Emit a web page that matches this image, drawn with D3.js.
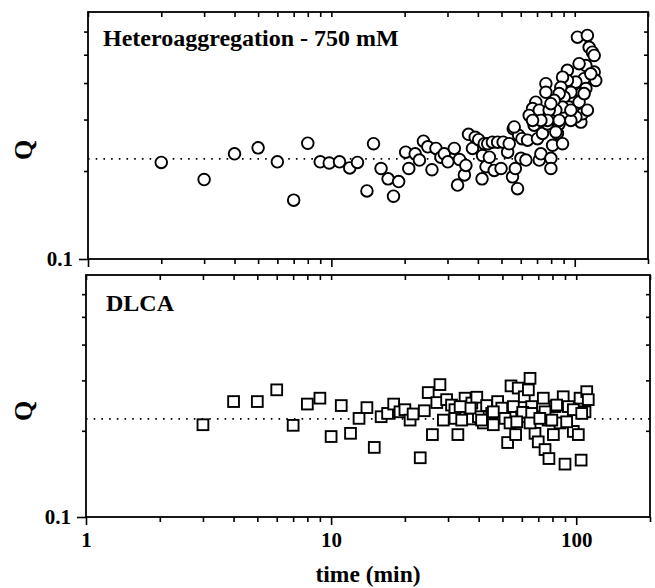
<!DOCTYPE html>
<html><head><meta charset="utf-8">
<script src="https://cdn.jsdelivr.net/npm/d3@7"></script>
<style>
body{margin:0;background:#fff}
svg{display:block;background:#fff}
text{font-family:"Liberation Serif","Times New Roman",serif;font-weight:bold;fill:#000}
</style>
</head><body>
<svg id="c" width="655" height="588"></svg>
<script>
// ---------------- data ----------------
const heteroTime = [
  2,3,4,5,6,7,8,9,9.8,10.8,11.9,12.8,14,14.9,
  16,17.1,18.9,18,20.2,20.8,22.1,23,23.9,24.9,25.9,26.9,28.2,29.1,30.1,32,33,33.6,35.2,35.7,36.6,38,39,40.3,41.6,42.5,43.2,
  41.8,43.9,44.6,45.9,46.7,48.2,49.8,50.8,53,53.8,55.5,55.9,57,58.2,58.8,60.1,60.7,63,64,68.1,70.3,71.5,72.6,73.7,77.3,79.8,79.8,81.1,84.9,86.3,89.1,106,
  102.6,112.7,114.6,118.2,120.2,120.2,118.2,111.1,104.2,109.3,111.1,106,101.1,93.3,93.3,99.5,96.4,89.1,87.7,90.5,94.8,104.2,107.6,112.7,101.1,96.4,89.1,86.3,82.3,83.6,76.1,76.1,69.2,67.1,65,71.5,78.5,86.3,77.3,72.6,67.1,56.4,122,116.4,
  79.8,83.6,96.4,109.3
];
const heteroQ = [
  .214,.187,.229,.240,.215,.159,.249,.215,.213,.215,.205,.214,.171,.248,
  .204,.188,.184,.164,.232,.204,.229,.218,.253,.242,.202,.239,.223,.229,.215,.239,.179,.219,.194,.209,.267,.239,.261,.256,.188,.248,.207,
  .226,.248,.223,.251,.201,.251,.204,.251,.232,.248,.191,.279,.204,.174,.265,.221,.258,.218,.255,.287,.258,.218,.229,.269,.290,.221,.204,.245,.269,.290,.248,.294,
  .574,.582,.530,.510,.497,.436,.414,.459,.466,.414,.383,.368,.403,.442,.408,.349,.372,.419,.387,.358,.331,.344,.314,.323,.306,.298,.331,.368,.349,.323,.398,.372,.344,.327,.310,.323,.323,.298,.298,.298,.298,.283,.408,.430,
  .340,.272,.323,.368
];
const dlcaTime = [
  3,4,5,6,7,8,9,10,
  11,12,13,14,15,16,17,18,
  19.1,20,21,21.6,23.1,24,24.9,25.9,
  27,27.8,28.7,29.6,31,32.9,32,34.1,
  35.2,36.9,37.5,39.3,39.9,41.8,43.1,45.2,
  45.9,47.8,49.7,51.2,52.5,53.7,54.2,55.4,
  56.6,58,59.9,61.4,64.8,63.8,65.8,67.9,
  70,70,73.4,74.6,77.4,76.8,80.7,81.9,
  85.9,88.5,90,92.9,97.3,102,104.7,103.7,
  110.4,112,108.6,
  60.5,65.8,74.6,83.2,97.3,32,34.1,41.1,57.2,64.8,71,79.5,91.4,105.3,45.9,36.9,33.6
];
const dlcaQ = [
  .210,.253,.253,.278,.209,.248,.260,.191,
  .245,.196,.221,.241,.175,.224,.230,.248,
  .233,.237,.218,.229,.161,.235,.272,.194,
  .251,.290,.218,.257,.246,.194,.237,.227,
  .260,.220,.250,.262,.224,.213,.245,.230,
  .210,.253,.240,.221,.182,.213,.287,.243,
  .194,.282,.224,.263,.305,.278,.243,.196,
  .224,.183,.260,.172,.160,.218,.194,.243,
  .213,.263,.153,.243,.199,.194,.158,.260,
  .274,.257,.233,
  .232,.230,.233,.246,.237,.221,.218,.218,.215,.213,.221,.218,.215,.230,.233,.240,.243
];
const xDomain = [1, 200];
const yDomain = [0.1, 0.7];
const xMajorTicks = [1, 10, 100];
const xMinorTicks = [2,3,4,5,6,7,8,9,20,30,40,50,60,70,80,90,200];
const yMajorTicks = [0.1];
const yMinorTicks = [0.2,0.3,0.4,0.5,0.6];
const refLevel = 0.22;
const panelTitles = ["Heteroaggregation - 750 mM", "DLCA"];
const yLabel = "Q";
const xLabel = "time (min)";

// ---------------- drawing ----------------
const svg = d3.select("#c");
const panels = [
  {title: panelTitles[0], time: heteroTime, q: heteroQ, marker: "circle",
   left: 88, right: 648, top: 12, bottom: 259, tx: 103, ty: 46, qy: 150, showX: false},
  {title: panelTitles[1], time: dlcaTime, q: dlcaQ, marker: "square",
   left: 86, right: 650, top: 275, bottom: 517, tx: 106, ty: 311, qy: 411, showX: true}
];

function styleAxis(g) {
  g.attr("font-size", null).attr("font-family", null);
  g.select(".domain").remove();
  g.selectAll(".tick line").attr("stroke", "#000").attr("stroke-width", 1.6);
  g.selectAll(".tick text").style("font-size", "21px");
}

panels.forEach(p => {
  const x = d3.scaleLog().domain(xDomain).range([p.left, p.right]);
  const y = d3.scaleLog().domain(yDomain).range([p.bottom, p.top]);
  const g = svg.append("g");

  // reference dotted line
  g.append("line")
    .attr("x1", x(xDomain[0])).attr("x2", x(xDomain[1]))
    .attr("y1", y(refLevel)).attr("y2", y(refLevel))
    .attr("stroke", "#000").attr("stroke-width", 1.7)
    .attr("stroke-dasharray", "1.6 6.1");

  // markers
  const data = p.time.map((t, i) => ({t, q: p.q[i]}));
  if (p.marker === "circle") {
    g.selectAll("circle.m").data(data).join("circle")
      .attr("class", "m")
      .attr("cx", d => x(d.t)).attr("cy", d => y(d.q)).attr("r", 5.8)
      .attr("fill", "#fff").attr("stroke", "#000").attr("stroke-width", 1.9);
  } else {
    const s = 10.8;
    g.selectAll("rect.m").data(data).join("rect")
      .attr("class", "m")
      .attr("x", d => x(d.t) - s / 2).attr("y", d => y(d.q) - s / 2)
      .attr("width", s).attr("height", s)
      .attr("fill", "#fff").attr("stroke", "#000").attr("stroke-width", 1.9);
  }

  // bottom axis (outward)
  g.append("g").attr("transform", `translate(0,${p.bottom})`)
    .call(d3.axisBottom(x).tickValues(xMajorTicks).tickSizeInner(8).tickSizeOuter(0).tickPadding(7)
      .tickFormat(p.showX ? d3.format("d") : () => ""))
    .call(styleAxis);
  g.append("g").attr("transform", `translate(0,${p.bottom})`)
    .call(d3.axisBottom(x).tickValues(xMinorTicks).tickSizeInner(5).tickSizeOuter(0).tickFormat(() => ""))
    .call(styleAxis);
  // top axis (inward)
  g.append("g").attr("transform", `translate(0,${p.top})`)
    .call(d3.axisTop(x).tickValues(xMajorTicks.concat(xMinorTicks)).tickSizeInner(-5).tickSizeOuter(0).tickFormat(() => ""))
    .call(styleAxis);
  // left axis (outward)
  g.append("g").attr("transform", `translate(${p.left},0)`)
    .call(d3.axisLeft(y).tickValues(yMajorTicks).tickSizeInner(9).tickSizeOuter(0).tickPadding(6)
      .tickFormat(d3.format(".1f")))
    .call(styleAxis);
  g.append("g").attr("transform", `translate(${p.left},0)`)
    .call(d3.axisLeft(y).tickValues(yMinorTicks).tickSizeInner(4).tickSizeOuter(0).tickFormat(() => ""))
    .call(styleAxis);
  // right axis (inward)
  g.append("g").attr("transform", `translate(${p.right},0)`)
    .call(d3.axisRight(y).tickValues(yMinorTicks).tickSizeInner(-4).tickSizeOuter(0).tickFormat(() => ""))
    .call(styleAxis);

  // frame
  g.append("rect")
    .attr("x", p.left).attr("y", p.top)
    .attr("width", p.right - p.left).attr("height", p.bottom - p.top)
    .attr("fill", "none").attr("stroke", "#000").attr("stroke-width", 1.8);

  // panel title
  g.append("text").attr("x", p.tx).attr("y", p.ty)
    .style("font-size", "24px").text(p.title);

  // y label
  g.append("text")
    .attr("transform", `translate(32,${p.qy}) rotate(-90)`)
    .attr("text-anchor", "middle").style("font-size", "26px").text(yLabel);
});

svg.append("text").attr("x", 368).attr("y", 582)
  .attr("text-anchor", "middle").style("font-size", "23.5px").text(xLabel);
</script>
</body></html>
